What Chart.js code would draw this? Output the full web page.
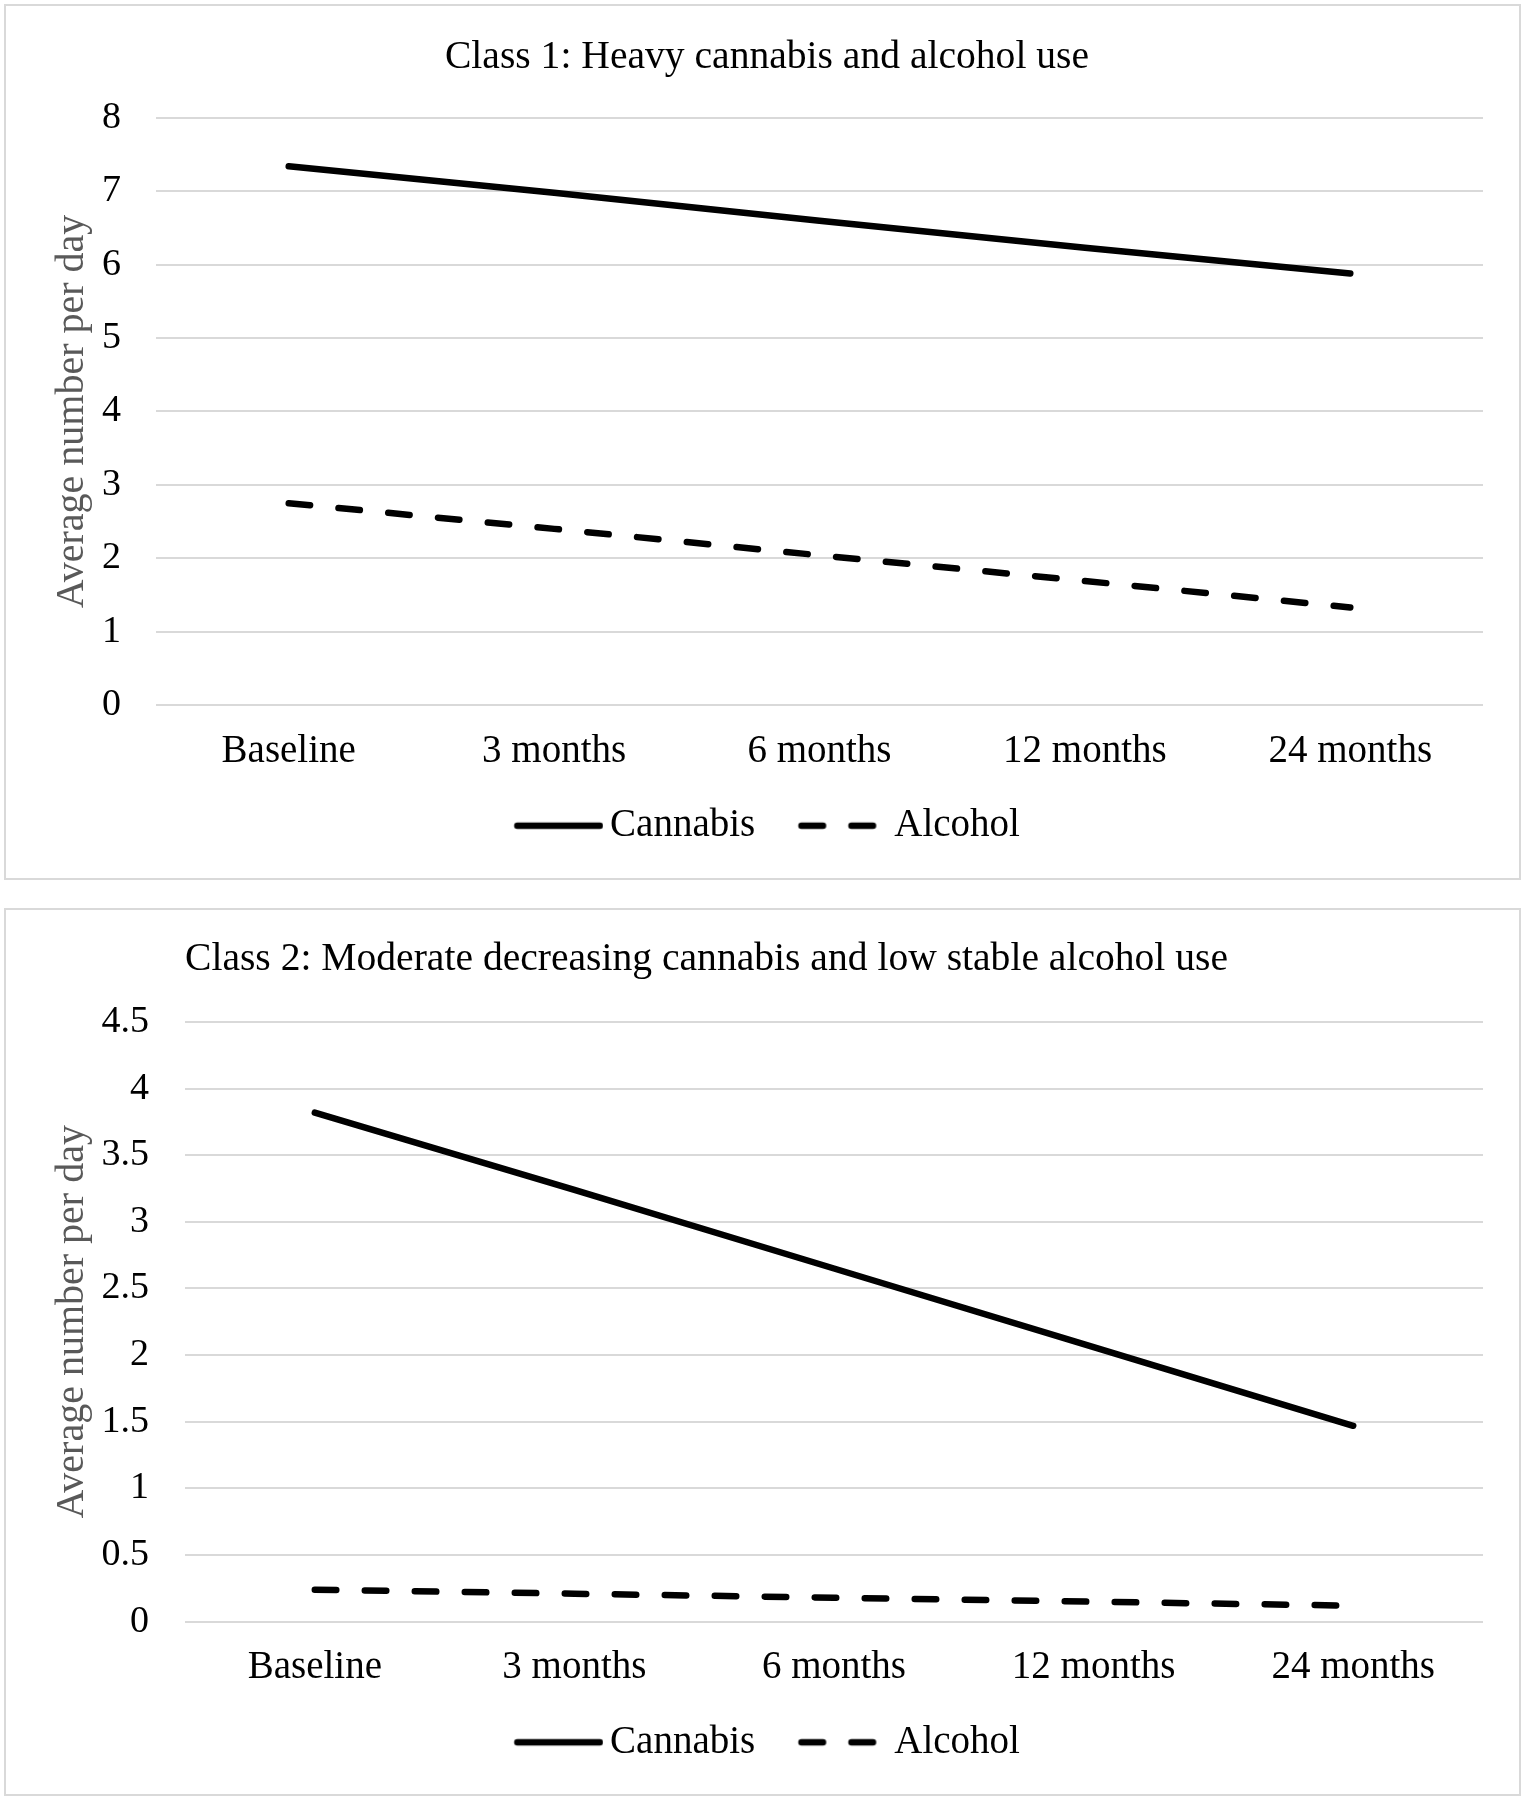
<!DOCTYPE html>
<html>
<head>
<meta charset="utf-8">
<title>Cannabis and alcohol use by class</title>
<script src="https://cdn.jsdelivr.net/npm/chart.js@4.4.1/dist/chart.umd.min.js"></script>
<style>
  body { margin: 0; background: #fff; }
  .panel { position: absolute; left: 4px; width: 1513px; border: 2px solid #d9d9d9; background: #fff; }
  #p1 { top: 4px; height: 872px; }
  #p2 { top: 908px; height: 884px; }
  canvas { display: block; }
</style>
</head>
<body>
<div class="panel" id="p1"><canvas id="class1" width="1513" height="872"></canvas></div>
<div class="panel" id="p2"><canvas id="class2" width="1513" height="884"></canvas></div>
<script>
// data
const timepoints = ['Baseline', '3 months', '6 months', '12 months', '24 months'];
const class1Cannabis = [7.34, 6.98, 6.60, 6.23, 5.88];
const class1Alcohol = [2.75, 2.40, 2.04, 1.69, 1.33];
const class2Cannabis = [3.82, 3.24, 2.65, 2.06, 1.47];
const class2Alcohol = [0.24, 0.21, 0.18, 0.15, 0.12];
// y axis: min, max, step
const class1Axis = [0, 8, 1];
const class2Axis = [0, 4.5, 0.5];

Chart.defaults.font.family = "'Liberation Serif', 'Times New Roman', serif";
Chart.defaults.color = '#000';

const lineW = 6.5;
const dashed = [21.5, 28.5];

// legend swatch: a short line that sits closer to its label than chart.js would put it
function swatch(dash) {
    const c = document.createElement('canvas');
    c.width = 102;
    c.height = 10;
    const g = c.getContext('2d');
    g.strokeStyle = '#000';
    g.lineWidth = lineW;
    g.lineCap = 'round';
    g.setLineDash(dash);
    g.beginPath();
    g.moveTo(16, 5);
    g.lineTo(98.5, 5);
    g.stroke();
    return c;
}

function makeChart(id, title, cannabis, alcohol, axis, lay) {
    const ctx = document.getElementById(id);
    return new Chart(ctx, {
        type: 'line',
        data: {
            labels: timepoints,
            datasets: [{
                label: 'Cannabis',
                data: cannabis,
                borderColor: '#000',
                backgroundColor: '#000',
                borderWidth: lineW,
                borderCapStyle: 'round',
                pointRadius: 0,
                pointHoverRadius: 0,
                tension: 0,
                fill: false
            }, {
                label: 'Alcohol',
                data: alcohol,
                borderColor: '#000',
                backgroundColor: '#000',
                borderWidth: lineW,
                borderCapStyle: 'round',
                borderDash: dashed,
                pointRadius: 0,
                pointHoverRadius: 0,
                tension: 0,
                fill: false
            }]
        },
        options: {
            responsive: false,
            animation: false,
            layout: { padding: { left: 45, right: 36, top: 0, bottom: lay.padBottom } },
            plugins: {
                tooltip: { enabled: false },
                title: {
                    display: true,
                    text: title,
                    align: lay.titleAlign,
                    fullSize: lay.titleAlign === 'center',
                    color: '#000',
                    font: { size: 39.6, weight: 'normal' },
                    padding: { top: lay.titleTop, bottom: lay.titleBottom }
                },
                legend: {
                    position: 'bottom',
                    labels: {
                        usePointStyle: true,
                        pointStyleWidth: 76.5,
                        boxHeight: 10,
                        padding: 43,
                        color: '#000',
                        font: { size: 39 },
                        generateLabels(chart) {
                            return chart.data.datasets.map((ds, i) => ({
                                text: ds.label,
                                fillStyle: '#000',
                                strokeStyle: '#000',
                                fontColor: '#000',
                                lineWidth: lineW,
                                pointStyle: swatch(ds.borderDash || []),
                                hidden: false,
                                datasetIndex: i
                            }));
                        }
                    }
                }
            },
            scales: {
                x: {
                    offset: true,
                    grid: { display: false, drawTicks: false },
                    border: { display: false },
                    ticks: { color: '#000', font: { size: 39 }, padding: lay.xPad, maxRotation: 0, autoSkip: false },
                    afterFit(s) { s.height = lay.xHeight; }
                },
                y: {
                    min: axis[0],
                    max: axis[1],
                    ticks: {
                        stepSize: axis[2],
                        color: '#000',
                        font: { size: 38 },
                        padding: lay.yPad,
                        callback: v => String(Math.round(v * 10) / 10)
                    },
                    grid: { color: '#d9d9d9', lineWidth: 2, drawTicks: false },
                    border: { display: false },
                    title: {
                        display: true,
                        text: 'Average number per day',
                        color: '#595959',
                        font: { size: 40, lineHeight: 1 },
                        padding: { top: 1, bottom: 0 }
                    },
                    afterFit(s) { s.width = lay.yWidth; }
                }
            }
        }
    });
}

makeChart('class1', 'Class 1: Heavy cannabis and alcohol use', class1Cannabis, class1Alcohol, class1Axis, {
    titleAlign: 'center', titleTop: 27.7, titleBottom: 36.7,
    padBottom: 22.8, xHeight: 58.2, xPad: 23.6, yWidth: 105, yPad: 35
});

makeChart('class2', 'Class 2: Moderate decreasing cannabis and low stable alcohol use', class2Cannabis, class2Alcohol, class2Axis, {
    titleAlign: 'start', titleTop: 25.7, titleBottom: 38.7,
    padBottom: 22.2, xHeight: 58.1, xPad: 23, yWidth: 134, yPad: 36
});
</script>
</body>
</html>
